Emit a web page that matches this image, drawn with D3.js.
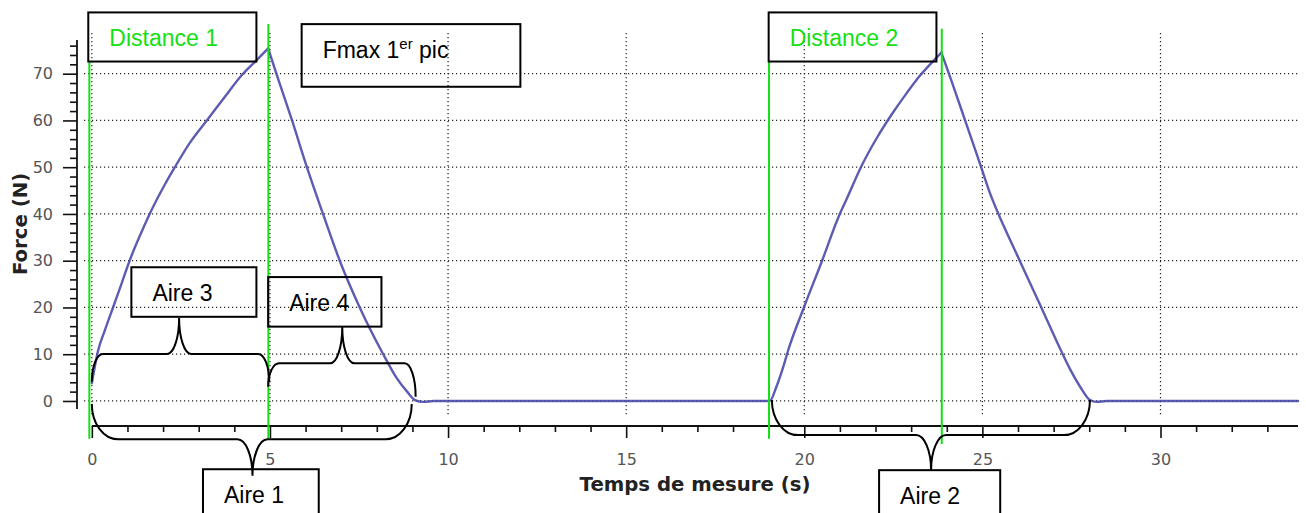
<!DOCTYPE html>
<html>
<head>
<meta charset="utf-8">
<script src="https://cdn.jsdelivr.net/npm/d3@7"></script>
<style>
  body { margin: 0; background: #fff; }
  .tick text { font-family: "DejaVu Sans", sans-serif; font-size: 16px; fill: #555; }
  .axis-title { font-family: "DejaVu Sans", sans-serif; font-size: 19.7px; font-weight: bold; fill: #222; }
  .note { font-family: "Liberation Sans", Arial, sans-serif; font-size: 23px; }
</style>
</head>
<body>
<div id="chart"></div>
<script>
// Force curve (time in s, force in N)
const timeS = [0, 0.18, 0.36, 0.6, 0.83, 1.07, 1.33, 1.63, 2.05, 2.33, 2.75, 3.27, 3.73, 4.2, 4.6, 4.95,
    5.18, 5.62, 6.03, 6.49, 6.96, 7.52, 8.18, 8.55, 8.85, 9.07, 9.3, 9.6, 19.03,
    19.22, 19.41, 19.55, 20.0, 20.5, 20.97, 21.19, 21.61, 22.04, 22.5, 22.88, 23.25, 23.67, 23.85,
    24.13, 24.56, 24.93, 25.21, 25.6, 26.0, 26.6, 27.18, 27.46, 27.74, 28.02, 28.2, 28.5, 33.86];
const forceN = [3.8, 10.9, 15.0, 20.1, 25, 30.2, 35, 40.1, 46.3, 50.0, 55.2, 60.4, 65, 69.6, 72.7, 75.4,
    70, 60, 50.2, 40, 30, 20, 10, 5, 2, 0.2, -0.2, 0, 0,
    3.1, 7.3, 10.9, 20.2, 30, 39.5, 43.2, 50.3, 56.3, 61.8, 65.9, 69.6, 73.1, 74.5,
    68.5, 59, 50.8, 44.5, 37.4, 30.8, 20.9, 11.2, 6.8, 3.1, 0.2, -0.2, 0, 0];

// Axis ticks
const xMajor = [0, 5, 10, 15, 20, 25, 30];
const xMinor = d3.range(0, 34, 1);
const yMajor = [0, 10, 20, 30, 40, 50, 60, 70];
const yMinor = d3.range(0, 78, 2);

// Green marker lines: time, top and bottom force
const markerTimes = [-0.07, 4.955, 19.01, 23.86];
const markerTops = [72.6, 80.6, 72.6, 79.6];
const markerBottoms = [-8.1, -8.1, -8.1, -9.2];

// Annotation boxes (data units)
const boxes = [
    { label: "Distance 1", t: [-0.10, 4.62], f: [83.1, 72.6], kind: "distance" },
    { label: "Fmax 1", sup: "er", after: " pic", t: [5.89, 12.03], f: [80.6, 67.2], kind: "note" },
    { label: "Distance 2", t: [19.0, 23.71], f: [83.1, 72.6], kind: "distance" },
    { label: "Aire 3", t: [1.11, 4.62], f: [28.6, 18.0], kind: "note" },
    { label: "Aire 4", t: [4.95, 8.13], f: [26.5, 15.9], kind: "note" },
    { label: "Aire 1", t: [3.12, 6.37], f: [-14.6, -30], kind: "note" },
    { label: "Aire 2", t: [22.1, 25.5], f: [-14.8, -30], kind: "note" }
];

// Curly braces: two ends, the flat line and the tip (data units)
const braces = [
    { name: "Aire 3", tA: 0, fA: 4.1, tB: 4.98, fB: 4.1, fLine: 10.05, tTip: 2.45, fTip: 17.75 },
    { name: "Aire 4", tA: 4.95, fA: 3.06, tB: 9.09, fB: 0.92, fLine: 8.06, tTip: 7.03, fTip: 15.8 },
    { name: "Aire 1", tA: 0.0, fA: -0.64, tB: 8.98, fB: -0.64, fLine: -8.2, tTip: 4.51, fTip: -16 },
    { name: "Aire 2", tA: 19.09, fA: 0.2, tB: 28.02, fB: 0.2, fLine: -7.3, tTip: 23.56, fTip: -14.8 }
];

const W = 1306, H = 513;
const plot = { left: 84, right: 1298, top: 33, bottom: 415 };
const green = "#14e014";

const svg = d3.select("#chart").append("svg")
    .attr("width", W)
    .attr("height", H)
    .style("display", "block");

const x = d3.scaleLinear().domain([-0.22, 33.86]).range([plot.left, plot.right]);
const y = d3.scaleLinear().domain([-3.0, 78.7]).range([plot.bottom, plot.top]);

// Dotted grid
const grid = svg.append("g")
    .attr("stroke", "#222")
    .attr("stroke-width", 1.2)
    .attr("stroke-dasharray", "1.2,2.8");
grid.selectAll(".gx").data(xMajor).enter().append("line")
    .attr("x1", d => x(d)).attr("x2", d => x(d))
    .attr("y1", plot.top).attr("y2", plot.bottom);
grid.selectAll(".gy").data(yMajor).enter().append("line")
    .attr("x1", plot.left).attr("x2", plot.right)
    .attr("y1", d => y(d)).attr("y2", d => y(d));

// Y axis (spine offset to the left of the plot)
const yAxisX = plot.left - 7;
const yAxisG = svg.append("g").attr("transform", "translate(" + yAxisX + ",0)");
yAxisG.append("g")
    .call(d3.axisLeft(y).tickValues(yMinor.filter(v => yMajor.indexOf(v) < 0)).tickSize(7).tickFormat(""))
    .call(g => g.select(".domain").remove());
yAxisG.append("g")
    .call(d3.axisLeft(y).tickValues(yMajor).tickSize(14).tickPadding(10))
    .call(g => g.select(".domain").remove());
yAxisG.selectAll("line").attr("stroke", "#111").attr("stroke-width", 1.6);
yAxisG.append("line")
    .attr("x1", 0).attr("x2", 0)
    .attr("y1", y(77.2)).attr("y2", y(-1.7))
    .attr("stroke", "#111").attr("stroke-width", 1.8);

// X axis (spine offset below the plot)
const xAxisY = plot.bottom + 11;
const xAxisG = svg.append("g").attr("transform", "translate(0," + xAxisY + ")");
xAxisG.append("g")
    .call(d3.axisBottom(x).tickValues(xMinor.filter(v => xMajor.indexOf(v) < 0)).tickSize(6).tickFormat(""))
    .call(g => g.select(".domain").remove());
xAxisG.append("g")
    .call(d3.axisBottom(x).tickValues(xMajor).tickSize(12).tickPadding(16))
    .call(g => g.select(".domain").remove());
xAxisG.selectAll("line").attr("stroke", "#111").attr("stroke-width", 1.6);
xAxisG.append("line")
    .attr("x1", x(0)).attr("x2", plot.right)
    .attr("y1", 0).attr("y2", 0)
    .attr("stroke", "#111").attr("stroke-width", 1.8);

// Axis titles
svg.append("text")
    .attr("class", "axis-title")
    .attr("transform", "translate(27," + ((plot.top + plot.bottom) / 2) + ") rotate(-90)")
    .attr("text-anchor", "middle")
    .text("Force (N)");
svg.append("text")
    .attr("class", "axis-title")
    .attr("x", 695)
    .attr("y", 491)
    .attr("text-anchor", "middle")
    .text("Temps de mesure (s)");

// Force curve: smooth pieces, broken at the two sharp peaks
const points = timeS.map((t, i) => [t, forceN[i]]);
const peaks = [];
for (let i = 1; i < forceN.length - 1; i++) {
    if (forceN[i] > 60 && forceN[i] > forceN[i - 1] && forceN[i] > forceN[i + 1]) peaks.push(i);
}
const cuts = [0].concat(peaks, [points.length - 1]);
const line = d3.line().x(d => x(d[0])).y(d => y(d[1])).curve(d3.curveMonotoneX);
svg.selectAll(".piece").data(d3.pairs(cuts)).enter().append("path")
    .attr("fill", "none")
    .attr("stroke", "#4a4aaa")
    .attr("stroke-opacity", 0.9)
    .attr("stroke-width", 2.4)
    .attr("stroke-linecap", "round")
    .attr("d", d => line(points.slice(d[0], d[1] + 1)));

// Green marker lines
svg.selectAll(".marker").data(markerTimes).enter().append("line")
    .attr("x1", d => x(d)).attr("x2", d => x(d))
    .attr("y1", (d, i) => y(markerTops[i]))
    .attr("y2", (d, i) => y(markerBottoms[i]))
    .attr("stroke", green)
    .attr("stroke-width", 2);

// Annotation boxes
const boxG = svg.selectAll(".box").data(boxes).enter().append("g");
boxG.append("rect")
    .attr("x", d => x(d.t[0]))
    .attr("y", d => y(d.f[0]))
    .attr("width", d => x(d.t[1]) - x(d.t[0]))
    .attr("height", d => y(d.f[1]) - y(d.f[0]))
    .attr("fill", "none")
    .attr("stroke", "#000")
    .attr("stroke-width", 2);
const label = boxG.append("text")
    .attr("class", "note")
    .attr("x", d => x(d.t[0]) + 21)
    .attr("y", d => y(d.f[0]) + 33.5)
    .attr("fill", d => d.kind === "distance" ? green : "#000")
    .text(d => d.label);
label.filter(d => d.sup).append("tspan")
    .attr("dy", -9).style("font-size", "15px")
    .text(d => d.sup);
label.filter(d => d.sup).append("tspan")
    .attr("dy", 9)
    .text(d => d.after);

// Curly braces
function bracePath(d) {
    const k = 0.552;
    const xa = x(d.tA), ya = y(d.fA), xb = x(d.tB), yb = y(d.fB);
    const yl = y(d.fLine), xt = x(d.tTip), yt = y(d.fTip);
    const down = d.fTip < d.fLine;
    const rE = down ? 26 : 11, rT = down ? 15 : 12;
    return "M" + xa + "," + ya +
        "C" + xa + "," + (ya + k * (yl - ya)) + " " + (xa + rE - k * rE) + "," + yl + " " + (xa + rE) + "," + yl +
        "L" + (xt - rT) + "," + yl +
        "C" + (xt - rT + k * rT) + "," + yl + " " + xt + "," + (yt + k * (yl - yt)) + " " + xt + "," + yt +
        "C" + xt + "," + (yt + k * (yl - yt)) + " " + (xt + rT - k * rT) + "," + yl + " " + (xt + rT) + "," + yl +
        "L" + (xb - rE) + "," + yl +
        "C" + (xb - rE + k * rE) + "," + yl + " " + xb + "," + (yb + k * (yl - yb)) + " " + xb + "," + yb;
}
svg.selectAll(".brace").data(braces).enter().append("path")
    .attr("d", bracePath)
    .attr("fill", "none")
    .attr("stroke", "#000")
    .attr("stroke-width", 2);
</script>
</body>
</html>
